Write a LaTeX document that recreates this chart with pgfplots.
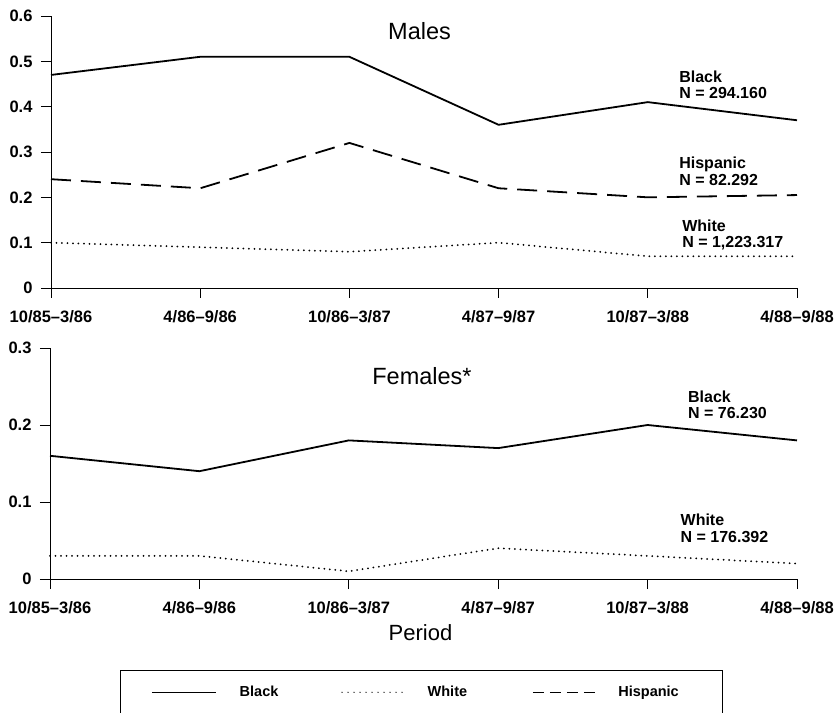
\documentclass[border=0pt]{standalone}
\usepackage{fontspec}
\setmainfont{Liberation Sans}
\usepackage{pgfplots}
\pgfplotsset{compat=1.18}
\tikzset{ann/.style={anchor=west, align=left, inner sep=0pt, font=\fontsize{16}{16.5}\selectfont\bfseries}}
\begin{document}
\begin{tikzpicture}
\useasboundingbox (0pt,0pt) rectangle (835pt,712pt);
\pgfplotsset{
  common/.style={
    scale only axis, xmin=0, xmax=5, ymin=0,
    axis x line*=bottom, axis y line*=left,
    xtick={0,1,2,3,4,5},
    xticklabels={10/85--3/86,4/86--9/86,10/86--3/87,4/87--9/87,10/87--3/88,4/88--9/88},
    tick align=outside, major tick length=10pt,
    tick label style={font=\fontsize{16.5}{18}\selectfont\bfseries},
    xticklabel style={yshift=-9pt},
    yticklabel style={xshift=-5pt},
    axis line style={line width=0.8pt}, tick style={line width=0.8pt, black},
    clip=false,
  },
  blk/.style={black, line width=1.8pt},
  wht/.style={black, line width=2pt, line cap=round, dash pattern=on 0pt off 5.5pt},
  hsp/.style={black, line width=1.8pt, dash pattern=on 20pt off 10pt},
}
\begin{axis}[common, at={(51pt,424pt)}, anchor=south west, width=746pt, height=272pt,
  ymax=0.6, ytick={0,0.1,0.2,0.3,0.4,0.5,0.6}, yticklabels={0,0.1,0.2,0.3,0.4,0.5,0.6}]
\addplot[blk] coordinates {(0,0.47) (1,0.51) (2,0.51) (3,0.36) (4,0.41) (5,0.37)};
\addplot[hsp] coordinates {(0,0.24) (1,0.22) (2,0.32) (3,0.22) (4,0.20) (5,0.205)};
\addplot[wht] coordinates {(0,0.10) (1,0.09) (2,0.08) (3,0.10) (4,0.07) (5,0.07)};
\node[font=\fontsize{23.5}{26}\selectfont] at (axis cs:2.47,0.567) {Males};
\node[ann] at (axis cs:4.21,0.448) {Black\\N = 294.160};
\node[ann] at (axis cs:4.21,0.258) {Hispanic\\N = 82.292};
\node[ann] at (axis cs:4.23,0.117) {White\\N = 1,223.317};
\end{axis}
\begin{axis}[common, at={(50pt,133pt)}, anchor=south west, width=747pt, height=231pt,
  ymax=0.3, ytick={0,0.1,0.2,0.3}, yticklabels={0,0.1,0.2,0.3},
  legend columns=3,
  legend style={at={(axis description cs:0.0937,-0.394)}, anchor=north west,
    draw=black, line width=0.6pt, font=\fontsize{14.5}{17}\selectfont\bfseries,
    inner xsep=31pt, inner ysep=14pt},
  legend cell align=left]
\addplot[blk, legend image code/.code={\draw[black, line width=1.4pt] (0pt,0pt) -- (64pt,0pt);}]
  coordinates {(0,0.16) (1,0.14) (2,0.18) (3,0.17) (4,0.20) (5,0.18)};
\addlegendentry{\hspace*{21pt}Black\hspace*{61pt}}
\addplot[wht, legend image code/.code={\draw[black, line width=1.3pt, line cap=round, dash pattern=on 0pt off 6pt] (1pt,0pt) -- (62pt,0pt);}]
  coordinates {(0,0.03) (1,0.03) (2,0.01) (3,0.04) (4,0.03) (5,0.02)};
\addlegendentry{\hspace*{22pt}White\hspace*{63pt}}
\addlegendimage{legend image code/.code={\draw[black, line width=1.2pt, dash pattern=on 11pt off 6pt] (0pt,0pt) -- (64pt,0pt);}}
\addlegendentry{\hspace*{19pt}Hispanic\hspace*{11pt}}
\node[font=\fontsize{23.5}{26}\selectfont] at (axis cs:2.49,0.264) {Females*};
\node[ann] at (axis cs:4.27,0.226) {Black\\N = 76.230};
\node[ann] at (axis cs:4.22,0.066) {White\\N = 176.392};
\node[font=\fontsize{22}{24}\selectfont] at (axis cs:2.48,-0.070) {Period};
\end{axis}
\end{tikzpicture}
\end{document}
